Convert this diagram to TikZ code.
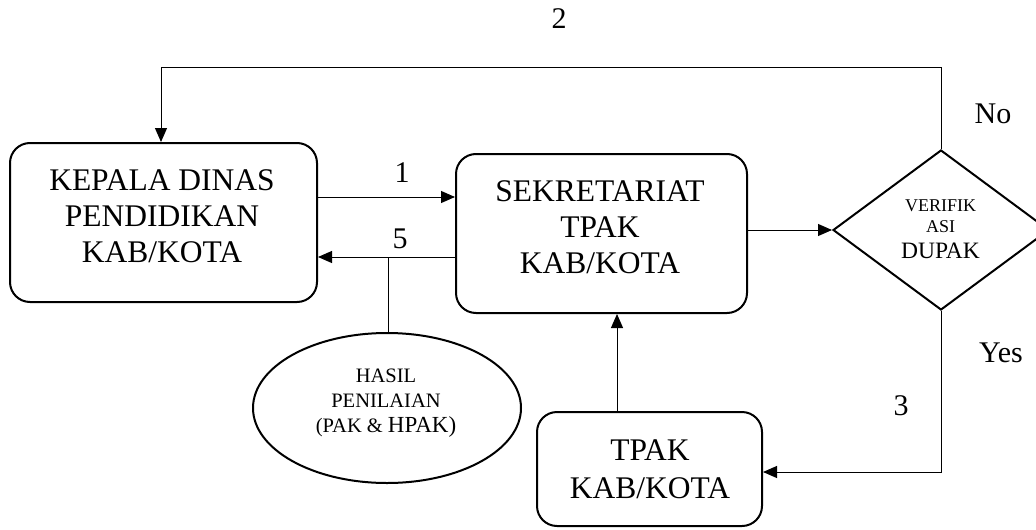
\documentclass[tikz,border=0pt]{standalone}
\usepackage{fontspec}
\setmainfont{Liberation Serif}
\usetikzlibrary{shapes.geometric,arrows.meta}
\begin{document}
\begin{tikzpicture}[x=1pt,y=-1pt,
  box/.style={draw,line width=2pt,rounded corners=20pt,inner sep=0pt},
  btext/.style={align=center,font=\fontsize{31.5}{36}\selectfont,inner sep=0pt},
  conn/.style={line width=1pt},
  arr/.style={conn,-{Triangle[length=14pt,width=12pt]}},
  lbl/.style={font=\fontsize{30}{36}\selectfont,inner sep=0pt}]
\clip (0,0) rectangle (1036,530);
% boxes
\node[box,minimum width=307pt,minimum height=159pt] (A) at (163.5,222.5) {};
\node[btext] (At) at (162,216) {KEPALA DINAS\\PENDIDIKAN\\KAB/KOTA};
\node[box,minimum width=291pt,minimum height=159pt] (B) at (601.5,233.5) {};
\node[btext] (Bt) at (600,227) {SEKRETARIAT\\TPAK\\KAB/KOTA};
\node[box,minimum width=225pt,minimum height=114pt] (C) at (649.5,469) {};
\node[btext,font=\fontsize{31.5}{38}\selectfont] (Ct) at (650,469.5) {TPAK\\KAB/KOTA};
% decision
\node[draw,diamond,line width=2pt,minimum width=216pt,minimum height=160pt,inner sep=0pt] (D) at (941,230) {};
\node[align=center,inner sep=0pt,font=\fontsize{18}{21}\selectfont] (Dt) at (940.5,229.5)
  {VERIFIK\\ASI\\[5pt]{\fontsize{23.5}{26}\selectfont DUPAK}};
% result
\node[draw,ellipse,line width=2pt,minimum width=268pt,minimum height=150pt,inner sep=0pt] (E) at (387,408) {};
\node[align=center,inner sep=0pt,font=\fontsize{20.5}{25}\selectfont] (Et) at (386,403)
  {HASIL\\PENILAIAN\\(PAK \& {\fontsize{23}{25}\selectfont HPAK)}};
% connectors
\draw[arr] (A.east |- 0,197) -- (B.west |- 0,197);
\draw[arr] (B.west |- 0,257) -- (A.east |- 0,257);
\coordinate (T5) at (388,257);
\draw[conn] (T5) -- (T5 |- E.north);
\draw[arr] (B.east |- D.west) -- (D.west);
\draw[arr] (D.north) -- (D.north |- 0,67) -| (A.north -| 161,0);
\draw[arr] (D.south) |- (C.east |- 0,472);
\draw[arr] (C.north -| 617,0) -- (B.south -| 617,0);
% labels
\node[lbl] (L2) at (559,19) {2};
\node[lbl] (LNo) at (993,114) {No};
\node[lbl] (LYes) at (1001,353) {Yes};
\node[lbl] (L3) at (901,406) {3};
\node[lbl] (L1) at (402,173) {1};
\node[lbl] (L5) at (400,239) {5};
\end{tikzpicture}
\end{document}
